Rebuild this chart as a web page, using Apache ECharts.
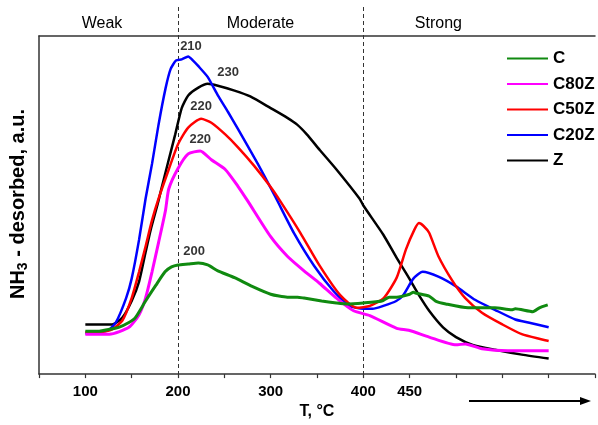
<!DOCTYPE html>
<html>
<head>
<meta charset="utf-8">
<script src="https://cdn.jsdelivr.net/npm/echarts@6/dist/echarts.min.js"></script>
<style>html,body{margin:0;padding:0;background:#fff}#c{width:598px;height:425px}</style>
</head>
<body>
<div id="c"></div>
<script>
// ---- data (a.u. = arbitrary units) ----
const C_T   = [100,115,126,136,147,154,165,176,186,193,200,211,222,232,243,261,280,300,318,329,336,355,371,382,400,420,428,436,450,454,457,471,478,489,513,542,560,564,583,590,599];
const C_V   = [44,44,46,48,53,58,75,91,105,110,112,113,114,112,106,99,90,82,79,79,78,75,73,72,73,75,79,79,82,84,83,80,75,72,68,68,66,67,64,68,71];

const C80Z_T = [100,126,147,158,165,172,179,186.5,190,200,211,224,236,251,264.5,275,300,318,336,353,371,389.5,407,436,449,471,500,510,528,556,600];
const C80Z_V = [41,41,48,61,78,105,135,168,190,211,226,229,220,210,193,178,141,121,106,93,78,65,60,47,45,38,30,31,26,24,24];

const C50Z_T = [100,115,129,140,150,158,165,172,179,190,200,211,225,236,251,264.5,282,300,310,332,353,375,393,407,422,436,446,455,460,465,471,481,496,510,528,550,571,600];
const C50Z_V = [43,43,46,55,78,105,131,158,180,210,236,253,262,258,246,233,214,192,178,145,111,81,68,70,78,99,128,148,155,152,145,121,96,78,63,51,41,34];

const C20Z_T = [100,115,120,125,133,144,150,158,165,172,179,186.5,192,198,204,211,216,222,232,243,254,264.5,286,305,325,347,368,385,400,410,421.6,435.5,443,454,464,481,500,521,542,564,578,600];
const C20Z_V = [42,42,44,45,53,78,98,138,180,216,256,293,313,322,323,326,322,316,305,286,269,252,216,182,145,111,85,70,67,67,70,75,81,98,105,100,90,76,66,56,53,48];

const Z_T = [100,115,129,140,150,158,165,170.5,179,181,190,197,204,211,222,232,243,261,278,300,318,328.6,339,353,371,396,400,421.6,435.5,449,460,471,486,500,518,542,571,600];
const Z_V = [51,51,51,58,75,95,125,148,178,186,220,246,273,286,294,298,296,291,285,273,263,256,246,230,210,180,173,143,120,99,81,65,48,38,30,25,20,16];

const seriesNames  = ['C','C80Z','C50Z','C20Z','Z'];
const seriesColors = ['#108a10','#ff00ff','#ff0000','#0000ff','#000000'];

const xTickLabels = [100,200,300,400,450];
const regionNames = ['Weak','Moderate','Strong'];
const regionBounds = [200,400];

// peak annotations: [T, a.u., text]
const peakNotes = [[214,336,'210'],[254,310,'230'],[225,275,'220'],[224,241,'220'],[217.5,126,'200']];

const zip = (t,v) => t.map((x,i)=>[x,v[i]]);
const allData = [zip(C_T,C_V), zip(C80Z_T,C80Z_V), zip(C50Z_T,C50Z_V), zip(C20Z_T,C20Z_V), zip(Z_T,Z_V)];
const widths = [3,3,2.5,2.5,2.5];

const FONT = 'Liberation Sans, Arial, sans-serif';
const chart = echarts.init(document.getElementById('c'));

const series = seriesNames.map((n,i)=>({
  name:n, type:'line', data: allData[i], showSymbol:false, symbol:'none',
  smooth:0.2, lineStyle:{color:seriesColors[i], width:widths[i]}, itemStyle:{color:seriesColors[i]},
  z: 10 - (i===0?0:i), animation:false
}));
series.push({
  type:'scatter', symbolSize:0, silent:true, animation:false,
  data: peakNotes.map(p=>({value:[p[0],p[1]], name:p[2]})),
  label:{show:true, position:'inside', formatter:'{b}', color:'#000', fontSize:13, fontWeight:'bold', fontFamily:FONT}
});

chart.setOption({
  backgroundColor:'#fff',
  animation:false,
  grid:{left:39, right:0, top:36, bottom:42},
  legend:{
    data: seriesNames, orient:'vertical', left:502, top:45, itemWidth:41, itemHeight:14, itemGap:8.5,
    icon:'path://M0,6 L41,6 L41,8 L0,8 Z',
    textStyle:{fontSize:17, fontWeight:'bold', color:'#000', fontFamily:FONT}
  },
  xAxis:[{
    type:'value', min:50, max:650, interval:50,
    name:'T, °C', nameLocation:'middle', nameGap:24,
    nameTextStyle:{fontSize:16, fontWeight:'bold', color:'#000', fontFamily:FONT},
    axisLine:{lineStyle:{color:'#333', width:1.5}},
    axisTick:{length:4, lineStyle:{color:'#333', width:1.2}},
    axisLabel:{margin:10, fontSize:15, fontWeight:'bold', color:'#000', fontFamily:FONT,
      formatter:v=> xTickLabels.includes(v) ? String(v) : ''},
    splitLine:{show:false}
  },{
    type:'value', position:'top', min:50, max:650,
    axisLine:{show:true, lineStyle:{color:'#333', width:1.5}},
    axisTick:{show:false}, axisLabel:{show:false}, splitLine:{show:false}
  }],
  yAxis:{
    type:'value', min:0, max:347,
    axisLine:{show:true, lineStyle:{color:'#333', width:1.5}},
    axisTick:{show:false}, axisLabel:{show:false}, splitLine:{show:false}
  },
  series: series
});

// derived overlays: region dividers & labels, y-title, arrow
const g = [];
const yBottom = chart.convertToPixel({yAxisIndex:0}, 0);
regionBounds.forEach(t=>{
  const px = Math.round(chart.convertToPixel({xAxisIndex:0}, t)) + 0.5;
  g.push({type:'line', shape:{x1:px, y1:7, x2:px, y2:yBottom}, style:{stroke:'#333', lineWidth:1, lineDash:[4,3]}, z:5, silent:true});
});
const regionCenters = [118, 289, 481];
regionNames.forEach((n,i)=>{
  const px = chart.convertToPixel({xAxisIndex:0}, regionCenters[i]);
  g.push({type:'text', x:px, y:24, style:{text:n, fontSize:16, fontFamily:FONT, fill:'#000', align:'center', verticalAlign:'middle'}, z:5});
});
g.push({type:'text', x:18, y:204, rotation:Math.PI/2,
  style:{text:'{n|NH}{s|3}{n| - desorbed, a.u.}', align:'center', verticalAlign:'middle',
    rich:{n:{fontSize:20, fontWeight:'bold', fontFamily:FONT, fill:'#000', lineHeight:24, verticalAlign:'middle'},
          s:{fontSize:14, fontWeight:'bold', fontFamily:FONT, fill:'#000', lineHeight:24, verticalAlign:'bottom', padding:[10,0,0,0]}}}, z:5});
g.push({type:'line', shape:{x1:469, y1:401, x2:582, y2:401}, style:{stroke:'#000', lineWidth:2}, z:5});
g.push({type:'polygon', shape:{points:[[580,397],[591,401],[580,405]]}, style:{fill:'#000'}, z:5});
chart.setOption({graphic:g});
</script>
</body>
</html>
